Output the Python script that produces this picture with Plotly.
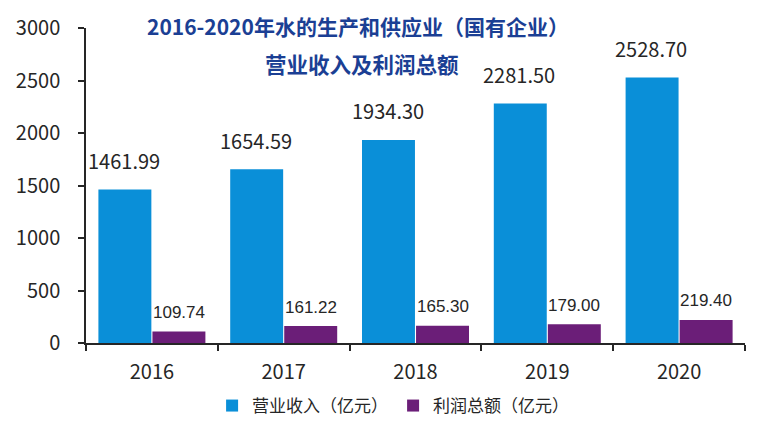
import plotly.graph_objects as go

years = ["2016", "2017", "2018", "2019", "2020"]
revenue = [1461.99, 1654.59, 1934.30, 2281.50, 2528.70]
profit = [109.74, 161.22, 165.30, 179.00, 219.40]
revenue_labels = ["1461.99", "1654.59", "1934.30", "2281.50", "2528.70"]
profit_labels = ["109.74", "161.22", "165.30", "179.00", "219.40"]
series_names = ["营业收入（亿元）", "利润总额（亿元）"]
title_line1 = "2016-2020年水的生产和供应业（国有企业）"
title_line2 = "营业收入及利润总额"
y_ticks = [0, 500, 1000, 1500, 2000, 2500, 3000]

BLUE = "#0a8fd8"
PURPLE = "#6b1e78"
CJK = "Noto Sans CJK SC"

fig = go.Figure()
fig.add_trace(go.Bar(x=years, y=revenue, name=series_names[0], marker_color=BLUE,
                     marker_line_width=0))
fig.add_trace(go.Bar(x=years, y=profit, name=series_names[1], marker_color=PURPLE,
                     marker_line_width=0))

annotations = []
for i, (v, t) in enumerate(zip(revenue, revenue_labels)):
    annotations.append(dict(x=i, y=v, xref="x", yref="y", text=t, showarrow=False,
                            xshift=-28, yshift=29, font=dict(family=CJK, size=20, color="#262626")))
for i, (v, t) in enumerate(zip(profit, profit_labels)):
    annotations.append(dict(x=i, y=v, xref="x", yref="y", text=t, showarrow=False,
                            xshift=27, yshift=19, font=dict(family="Liberation Sans", size=17, color="#262626")))
annotations.append(dict(x=0.412, y=1.006, xref="paper", yref="paper", yanchor="middle",
                        text="<b>" + title_line1 + "</b>",
                        showarrow=False, font=dict(family=CJK, size=21, color="#1b3f94")))
annotations.append(dict(x=0.419, y=0.887, xref="paper", yref="paper", yanchor="middle",
                        text="<b>" + title_line2 + "</b>",
                        showarrow=False, font=dict(family=CJK, size=21.5, color="#1b3f94")))

fig.update_layout(
    width=764, height=439,
    margin=dict(l=86, r=19, t=25, b=96),
    plot_bgcolor="white", paper_bgcolor="white",
    barmode="group", bargap=0.18, bargroupgap=0.02,
    font=dict(family=CJK, color="#262626"),
    annotations=annotations,
    legend=dict(orientation="h", x=0.466, xanchor="center", y=-0.2, yanchor="middle",
                font=dict(family=CJK, size=17, color="#262626"), itemwidth=30,
                traceorder="normal"),
)
fig.update_xaxes(type="category", range=[-0.5, 4.5], showline=True, linecolor="#262626", linewidth=1.5,
                 ticks="outside", tickson="boundaries", ticklen=6, tickcolor="#262626",
                 tickwidth=1.5, showgrid=False, tickfont=dict(family=CJK, size=20, color="#262626"),
                 ticklabelstandoff=10, tickangle=0)
fig.update_yaxes(range=[0, 3000], tickvals=y_ticks, showline=True, linecolor="#262626",
                 linewidth=1.5, ticks="outside", ticklen=6, tickcolor="#262626", tickwidth=1.5,
                 showgrid=False, zeroline=False, tickfont=dict(family=CJK, size=20, color="#262626"),
                 ticklabelstandoff=14)

fig.write_html("out.html")
